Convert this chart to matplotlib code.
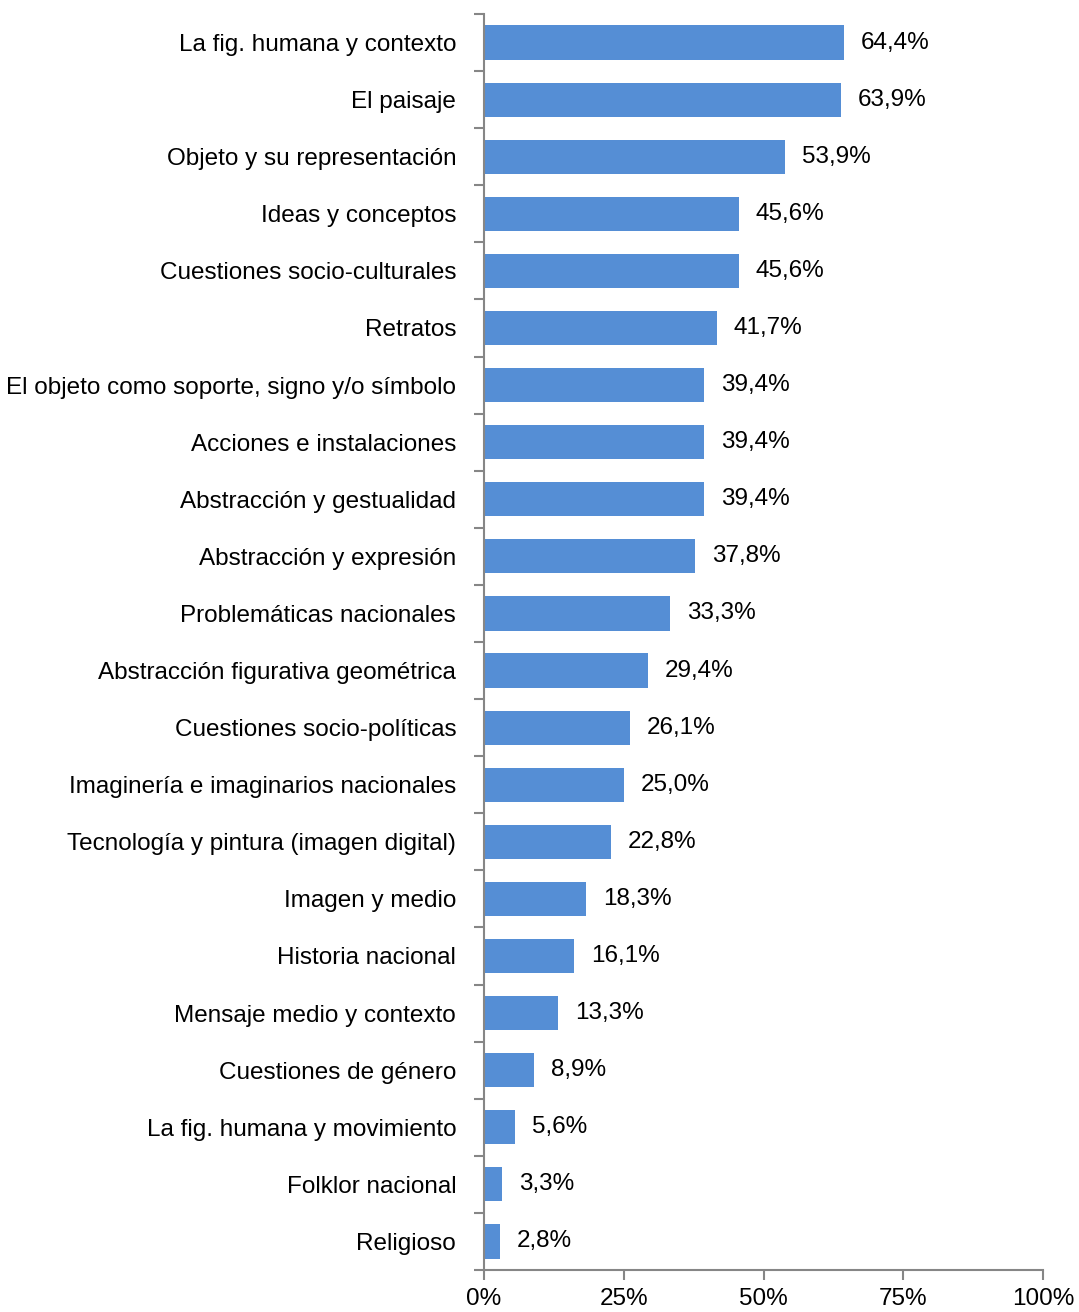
import matplotlib
matplotlib.use("Agg")
import matplotlib.pyplot as plt
import numpy as np

categories = [
    "La fig. humana y contexto",
    "El paisaje",
    "Objeto y su representación",
    "Ideas y conceptos",
    "Cuestiones socio-culturales",
    "Retratos",
    "El objeto como soporte, signo y/o símbolo",
    "Acciones e instalaciones",
    "Abstracción y gestualidad",
    "Abstracción y expresión",
    "Problemáticas nacionales",
    "Abstracción figurativa geométrica",
    "Cuestiones socio-políticas",
    "Imaginería e imaginarios nacionales",
    "Tecnología y pintura (imagen digital)",
    "Imagen y medio",
    "Historia nacional",
    "Mensaje medio y contexto",
    "Cuestiones de género",
    "La fig. humana y movimiento",
    "Folklor nacional",
    "Religioso",
]
values = [64.4, 63.9, 53.9, 45.6, 45.6, 41.7, 39.4, 39.4, 39.4, 37.8, 33.3,
          29.4, 26.1, 25.0, 22.8, 18.3, 16.1, 13.3, 8.9, 5.6, 3.3, 2.8]
xticks = [0, 25, 50, 75, 100]
xtick_labels = ["0%", "25%", "50%", "75%", "100%"]

plt.rcParams["font.family"] = ["Liberation Sans", "DejaVu Sans"]

bar_color = "#558ED5"
axis_color = "#868686"
fs = 17.5

fig = plt.figure(figsize=(10.79, 13.12), dpi=100)
ax = fig.add_axes([484 / 1079, 1 - 1270 / 1312, (1043 - 484) / 1079, (1270 - 14) / 1312])

n = len(categories)
y = np.arange(n)
ax.barh(y, values, height=0.6, color=bar_color, zorder=2)

ax.set_xlim(0, 100)
ax.set_ylim(n - 0.5, -0.5)

ax.set_yticks(y)
ax.set_yticklabels(categories, fontsize=fs)
ax.set_yticks(np.arange(n + 1) - 0.5, minor=True)
ax.tick_params(axis="y", which="major", length=0, pad=20)
ax.tick_params(axis="y", which="minor", length=7, width=1.5, color=axis_color)

ax.set_xticks(xticks)
ax.set_xticklabels(xtick_labels, fontsize=fs)
ax.tick_params(axis="x", length=7, width=1.5, color=axis_color, pad=6)

for s in ["top", "right"]:
    ax.spines[s].set_visible(False)
for s in ["left", "bottom"]:
    ax.spines[s].set_color(axis_color)
    ax.spines[s].set_linewidth(1.5)

for yi, v in zip(y, values):
    ax.text(v + 3.0, yi, f"{v:.1f}%".replace(".", ","), va="center", ha="left",
            fontsize=fs)

fig.savefig("out.png", dpi=100)
